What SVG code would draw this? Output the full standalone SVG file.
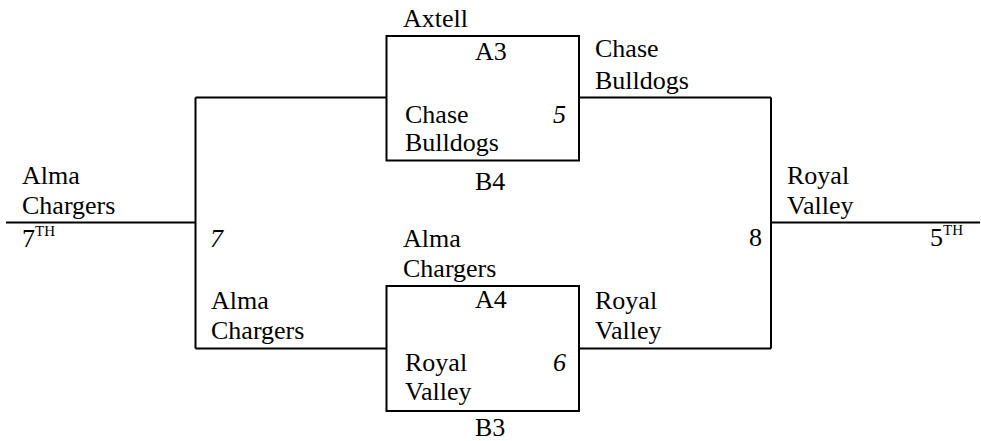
<svg xmlns="http://www.w3.org/2000/svg" width="981" height="441" viewBox="0 0 981 441" font-family="'Liberation Serif', 'Times New Roman', Tinos, 'DejaVu Serif', serif">
<style>
text{font-family:'Liberation Serif','Times New Roman',Tinos,'DejaVu Serif',serif;font-size:26px;fill:#000}
.i{font-style:italic}
.sup{font-size:15px}
.ln{fill:none;stroke:#000;stroke-width:2}
</style>
<rect width="981" height="441" fill="#fff"/>
<g id="connectors">
<path class="ln" d="M6 222.5H195.5M195.5 97.5V348.5M195.5 97.5H386M195.5 348.5H386M579 97.5H771M579 348.5H771M771 97.5V348.5M771 222.5H980"/>
</g>
<g id="game5">
<rect class="ln" x="386.5" y="36" width="192.5" height="124.5"/>
<text x="403" y="27">Axtell</text>
<text x="475" y="60">A3</text>
<text x="405" y="122.5">Chase</text>
<text x="405" y="151">Bulldogs</text>
<text class="i" x="553" y="122.5">5</text>
<text x="475" y="190">B4</text>
</g>
<g id="game6">
<rect class="ln" x="386.5" y="286" width="192.5" height="125"/>
<text x="403" y="247">Alma</text>
<text x="403" y="277">Chargers</text>
<text x="475" y="308">A4</text>
<text x="405" y="371">Royal</text>
<text x="405" y="400">Valley</text>
<text class="i" x="553" y="371">6</text>
<text x="475" y="436">B3</text>
</g>
<g id="game7">
<text x="22" y="184">Alma</text>
<text x="22" y="214">Chargers</text>
<text x="22" y="247">7<tspan class="sup" dy="-11">TH</tspan></text>
<text class="i" x="210" y="247">7</text>
<text x="211" y="309">Alma</text>
<text x="211" y="339">Chargers</text>
</g>
<g id="game8">
<text x="595" y="57">Chase</text>
<text x="595" y="89">Bulldogs</text>
<text x="595" y="309">Royal</text>
<text x="595" y="339">Valley</text>
<text x="749" y="246">8</text>
<text x="787" y="184">Royal</text>
<text x="787" y="214">Valley</text>
<text x="930" y="246">5<tspan class="sup" dy="-11">TH</tspan></text>
</g>
</svg>
